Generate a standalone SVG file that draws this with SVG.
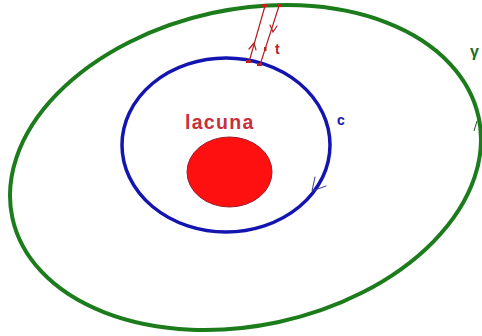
<svg xmlns="http://www.w3.org/2000/svg" width="482" height="336" viewBox="0 0 482 336">
<style>
.lbl{font-family:"Liberation Sans",Arial,sans-serif;font-weight:bold}
.thin{fill:none;stroke-linecap:round}
</style>
<rect width="482" height="336" fill="#ffffff"/>
<g id="gamma">
<ellipse cx="245.5" cy="167.5" rx="238.5" ry="158" transform="rotate(-12.2 245.5 167.5)" fill="none" stroke="#1c7c1c" stroke-width="4"/>
<text class="lbl" x="470" y="57" font-size="16" fill="#1c6c1c">γ</text>
</g>
<g id="c">
<ellipse cx="226" cy="145" rx="104" ry="87" fill="none" stroke="#1414b0" stroke-width="3.5"/>
<text class="lbl" x="337" y="125" font-size="14" fill="#1414b0">c</text>
</g>
<g id="lacuna">
<ellipse cx="229.5" cy="172" rx="42.5" ry="35" fill="#ff1010" stroke="#9a1a2a" stroke-width="1"/>
<text class="lbl" x="185" y="129" font-size="19.5" letter-spacing="1.3" fill="#c8303a">lacuna</text>
</g>
<g id="t">
<text class="lbl" x="275" y="54" font-size="14" fill="#c02020">t</text>
</g>
<g id="connectors">
<line x1="265" y1="6" x2="249" y2="62" stroke="#b02020" stroke-width="1.2"/>
<line x1="279" y1="6" x2="260" y2="65" stroke="#b02020" stroke-width="1.2"/>
<rect x="262" y="4" width="5" height="3" fill="#c02020"/>
<rect x="277" y="4" width="5" height="3" fill="#c02020"/>
<rect x="246" y="60" width="5" height="3" fill="#c02020"/>
<rect x="257" y="63" width="5" height="3" fill="#c02020"/>
<rect x="264" y="47" width="2.5" height="4" fill="#c02020"/>
<polyline class="thin" points="249,49 254,43 256,50" stroke="#b02020" stroke-width="1.2"/>
<polyline class="thin" points="270,25 273,32 277,26" stroke="#b02020" stroke-width="1.2"/>
<polyline class="thin" points="315,177 312,191 326,186" stroke="#3a3a8a" stroke-width="1"/>
<line x1="474" y1="131" x2="477" y2="121" stroke="#1c5c1c" stroke-width="1"/>
</g>
</svg>
